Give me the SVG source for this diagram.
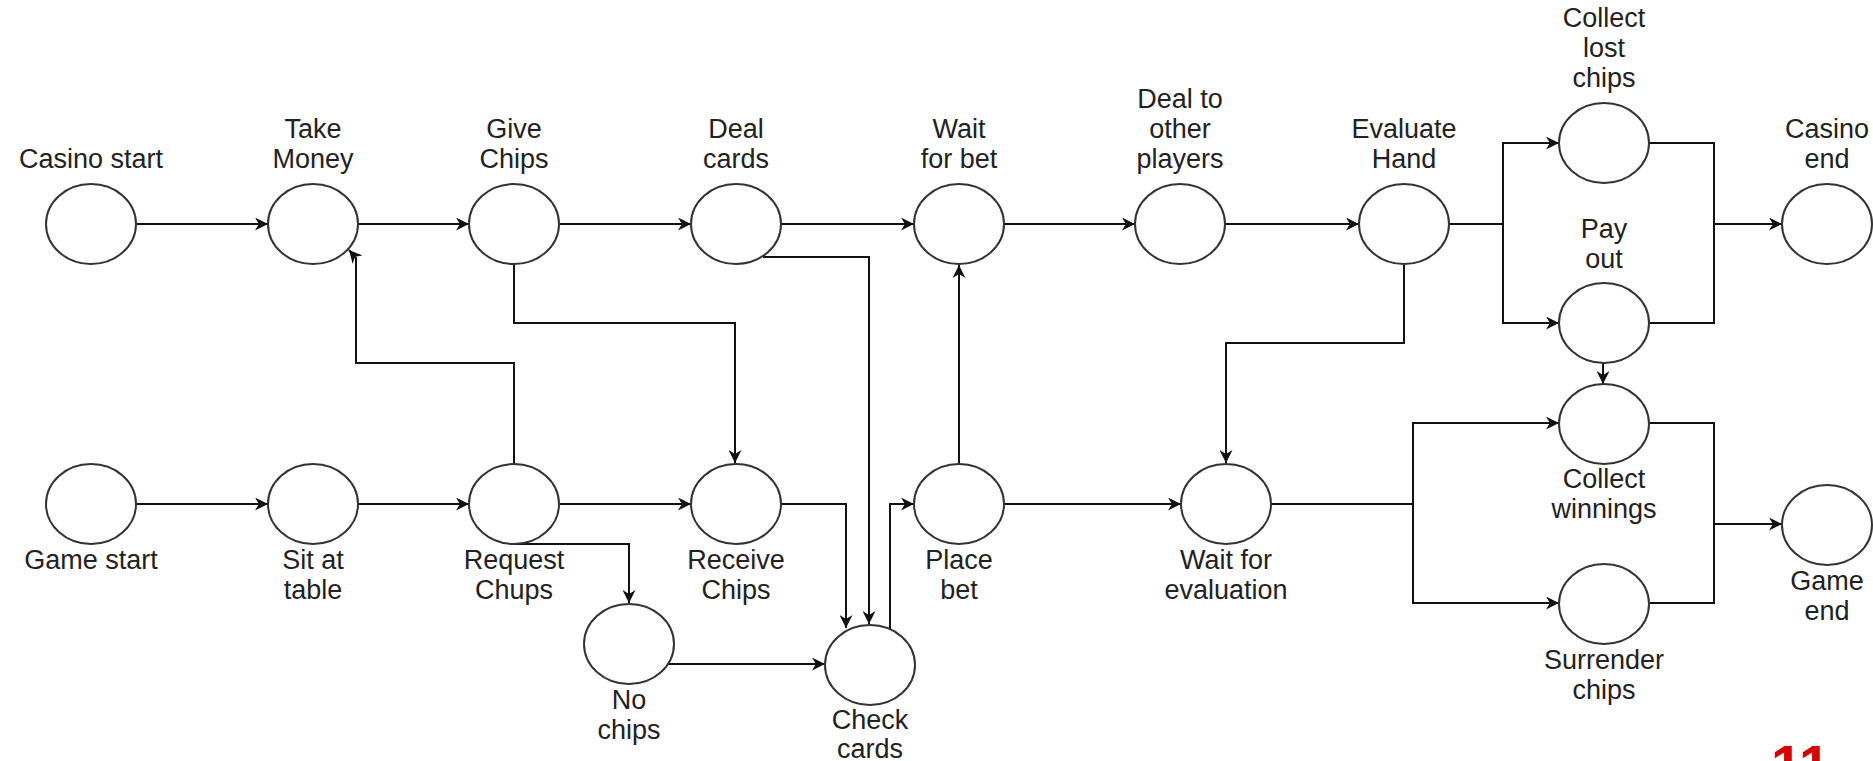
<svg xmlns="http://www.w3.org/2000/svg" width="1873" height="761" viewBox="0 0 1873 761">
<style>
.n ellipse{fill:#fff;stroke:#333;stroke-width:2}
.n text{font-family:"Liberation Sans",Arial,sans-serif;font-size:27px;fill:#222;text-anchor:middle}
#edges path{fill:none;stroke:#111;stroke-width:2;marker-end:url(#arr)}
#edges path.p{marker-end:none}
</style>
<defs>
<marker id="arr" viewBox="0 0 10 10" refX="10" refY="5" markerUnits="userSpaceOnUse" markerWidth="15" markerHeight="13" orient="auto">
<path d="M0,0 L10,5 L0,10 L3,5 z" fill="#111"/>
</marker>
</defs>
<rect width="1873" height="761" fill="#fff"/>

<g id="edges">
<path d="M136,224 H268"/>
<path d="M358,224 H469"/>
<path d="M559,224 H691"/>
<path d="M781,224 H914"/>
<path d="M1004,224 H1135"/>
<path d="M1225,224 H1359"/>
<path class="p" d="M1449,224 H1503"/>
<path d="M1503,224 V143 H1559"/>
<path d="M1503,224 V323 H1559"/>
<path class="p" d="M1649,143 H1714 V323 H1649"/>
<path d="M1714,224 H1782"/>
<path d="M1404,264 V343 H1226 V463"/>
<path d="M514,264 V323 H735 V463"/>
<path d="M763,257 H869 V624"/>
<path d="M514,464 V363 H356 V258 L349,250"/>
<path d="M136,504 H268"/>
<path d="M358,504 H469"/>
<path d="M559,504 H691"/>
<path d="M514,544 H629 V603"/>
<path d="M781,504 H846 V628"/>
<path d="M668,664 H825"/>
<path d="M890,629 V504 H914"/>
<path d="M959,464 V265"/>
<path d="M1004,504 H1181"/>
<path class="p" d="M1271,504 H1413"/>
<path d="M1413,504 V423 H1559"/>
<path d="M1413,504 V603 H1559"/>
<path class="p" d="M1649,423 H1714 V603 H1649"/>
<path d="M1714,524 H1782"/>
<path d="M1603,363 V384"/>
</g>

<g id="casino-start" class="n"><ellipse cx="91" cy="224" rx="45" ry="40"/><text x="91" y="168">Casino start</text></g>
<g id="take-money" class="n"><ellipse cx="313" cy="224" rx="45" ry="40"/><text x="313" y="138">Take</text><text x="313" y="168">Money</text></g>
<g id="give-chips" class="n"><ellipse cx="514" cy="224" rx="45" ry="40"/><text x="514" y="138">Give</text><text x="514" y="168">Chips</text></g>
<g id="deal-cards" class="n"><ellipse cx="736" cy="224" rx="45" ry="40"/><text x="736" y="138">Deal</text><text x="736" y="168">cards</text></g>
<g id="wait-for-bet" class="n"><ellipse cx="959" cy="224" rx="45" ry="40"/><text x="959" y="138">Wait</text><text x="959" y="168">for bet</text></g>
<g id="deal-other" class="n"><ellipse cx="1180" cy="224" rx="45" ry="40"/><text x="1180" y="108">Deal to</text><text x="1180" y="138">other</text><text x="1180" y="168">players</text></g>
<g id="evaluate-hand" class="n"><ellipse cx="1404" cy="224" rx="45" ry="40"/><text x="1404" y="138">Evaluate</text><text x="1404" y="168">Hand</text></g>
<g id="collect-lost" class="n"><ellipse cx="1604" cy="143" rx="45" ry="40"/><text x="1604" y="27">Collect</text><text x="1604" y="57">lost</text><text x="1604" y="87">chips</text></g>
<g id="pay-out" class="n"><ellipse cx="1604" cy="323" rx="45" ry="40"/><text x="1604" y="238">Pay</text><text x="1604" y="268">out</text></g>
<g id="casino-end" class="n"><ellipse cx="1827" cy="224" rx="45" ry="40"/><text x="1827" y="138">Casino</text><text x="1827" y="168">end</text></g>

<g id="game-start" class="n"><ellipse cx="91" cy="504" rx="45" ry="40"/><text x="91" y="569">Game start</text></g>
<g id="sit-at-table" class="n"><ellipse cx="313" cy="504" rx="45" ry="40"/><text x="313" y="569">Sit at</text><text x="313" y="599">table</text></g>
<g id="request-chups" class="n"><ellipse cx="514" cy="504" rx="45" ry="40"/><text x="514" y="569">Request</text><text x="514" y="599">Chups</text></g>
<g id="receive-chips" class="n"><ellipse cx="736" cy="504" rx="45" ry="40"/><text x="736" y="569">Receive</text><text x="736" y="599">Chips</text></g>
<g id="no-chips" class="n"><ellipse cx="629" cy="644" rx="45" ry="40"/><text x="629" y="709">No</text><text x="629" y="739">chips</text></g>
<g id="check-cards" class="n"><ellipse cx="870" cy="665" rx="45" ry="40"/><text x="870" y="729">Check</text><text x="870" y="758">cards</text></g>
<g id="place-bet" class="n"><ellipse cx="959" cy="504" rx="45" ry="40"/><text x="959" y="569">Place</text><text x="959" y="599">bet</text></g>
<g id="wait-for-evaluation" class="n"><ellipse cx="1226" cy="504" rx="45" ry="40"/><text x="1226" y="569">Wait for</text><text x="1226" y="599">evaluation</text></g>
<g id="collect-winnings" class="n"><ellipse cx="1604" cy="424" rx="45" ry="40"/><text x="1604" y="488">Collect</text><text x="1604" y="518">winnings</text></g>
<g id="surrender-chips" class="n"><ellipse cx="1604" cy="604" rx="45" ry="40"/><text x="1604" y="669">Surrender</text><text x="1604" y="699">chips</text></g>
<g id="game-end" class="n"><ellipse cx="1827" cy="525" rx="45" ry="40"/><text x="1827" y="590">Game</text><text x="1827" y="620">end</text></g>

<text x="1771" y="784" font-family="Liberation Sans, Arial, sans-serif" font-size="56" font-weight="bold" fill="#d90000">11</text>
</svg>
